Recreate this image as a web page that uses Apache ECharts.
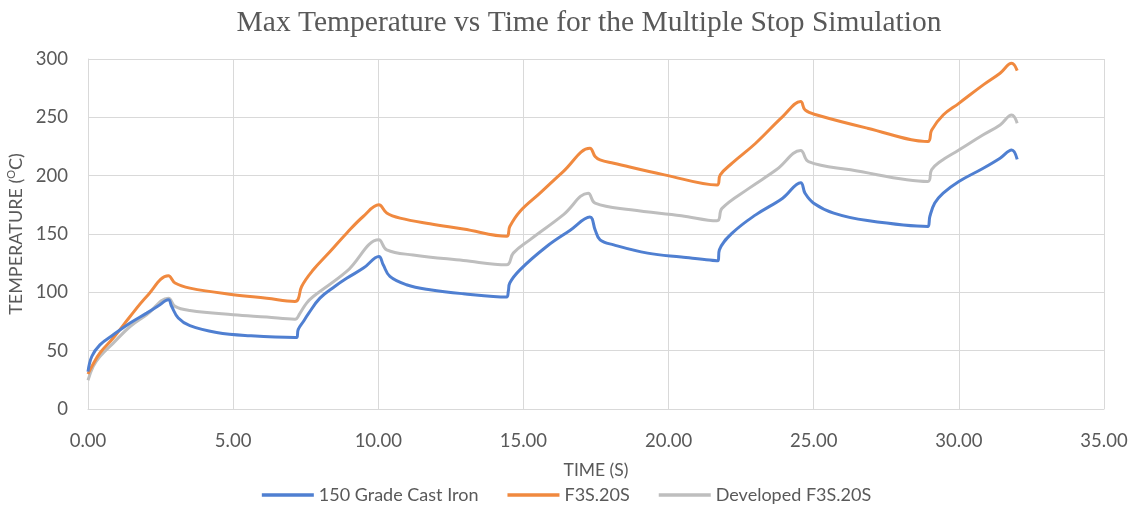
<!DOCTYPE html>
<html>
<head>
<meta charset="utf-8">
<title>Max Temperature vs Time</title>
<script src="https://cdn.jsdelivr.net/npm/echarts@6/dist/echarts.min.js"></script>
<style>
  html, body { margin: 0; padding: 0; background: #ffffff; }
  #chart { width: 1133px; height: 517px; }
</style>
</head>
<body>
<div id="chart"></div>
<script>
// Series names
const seriesNames = ['150 Grade Cast Iron', 'F3S.20S', 'Developed F3S.20S'];

// 150 Grade Cast Iron: time (s) and max temperature (°C)
const castIronTime = [0, 0.13, 0.41, 0.87, 1.45, 2.02, 2.4, 2.77, 2.88, 3.11, 3.51, 4.43, 5.58, 7.13, 7.2,
  7.24, 7.42, 7.6, 7.99, 8.5, 8.91, 9.5, 10.02, 10.17, 10.4, 10.97, 11.78, 12.93, 14.42, 14.48,
  14.53, 14.88, 15.8, 16.6, 17.29, 17.47, 17.64, 18.11, 19.28, 20.44, 21.7, 21.75, 22.19, 23.0, 23.93,
  24.55, 24.7, 25.0, 25.69, 26.85, 28.93, 29.0, 29.17, 29.46, 30.0, 30.84, 31.42, 31.82, 32.01];
const castIronTemp = [32, 45, 55, 63.6, 73.7, 82.2, 88, 93.6, 88, 78, 71.4, 65.6, 62.8, 61.3, 61.5,
  68, 75, 82, 95, 105, 112, 121, 130.7, 123.6, 113.6, 106.5, 102.2, 98.8, 96, 101,
  108, 119.3, 139.3, 153, 164.5, 153.6, 145, 140.7, 133.6, 130.2, 127, 136.4, 150.7, 166.4, 180.7,
  194, 185, 176.4, 167.9, 161.5, 156.4, 165, 176.5, 185, 195, 206.4, 215, 222, 214];

// F3S.20S
const f3sTime = [0, 0.13, 0.41, 0.87, 1.45, 2.02, 2.77, 3.0, 3.51, 5.0, 6.16, 7.13, 7.24, 7.36, 7.76,
  8.34, 8.91, 9.48, 10.02, 10.29, 10.75, 11.78, 12.93, 14.42, 14.53, 14.88, 15.57, 16.37, 17.29, 17.47,
  17.64, 18.11, 19.86, 21.67, 21.78, 22.19, 23.0, 23.93, 24.55, 24.7, 25.11, 26.85, 28.93, 29.06, 29.46,
  30.0, 30.84, 31.42, 31.82, 32.01];
const f3sTemp = [30, 36.5, 48, 60.8, 79.3, 96.4, 114.2, 108, 103.6, 98, 95, 92.2, 94.2, 105, 119.3,
  135, 150.7, 165, 175, 168, 163.6, 158.7, 154.2, 148, 156.4, 169.3, 185, 203.5, 223.5, 216.4,
  213.5, 210.7, 200.7, 192, 200.7, 210.7, 227.8, 250.6, 263.5, 256.4, 252, 240.7, 229.2, 239, 252,
  262, 277.8, 287.8, 296.3, 290];

// Developed F3S.20S
const developedTime = [0, 0.18, 0.41, 0.87, 1.45, 2.02, 2.77, 3.0, 3.51, 5.0, 6.16, 7.13, 7.3, 7.53, 7.76,
  8.91, 10.02, 10.29, 11.2, 12.93, 14.42, 14.65, 15.22, 16.37, 17.23, 17.47, 18.7, 20.44, 21.67, 21.84,
  22.78, 23.71, 24.55, 24.82, 26.27, 28.93, 29.06, 29.35, 30.0, 30.84, 31.42, 31.82, 32.01];
const developedTemp = [24.6, 36.5, 45, 56.5, 70.7, 80.8, 95, 88, 84.5, 80.8, 78.8, 77, 82, 90.8, 96.4,
  117.9, 145, 136.4, 132, 127.3, 123.6, 133.6, 145, 166.4, 185, 176.4, 170.7, 165.6, 161.3, 172,
  189.3, 205, 221.5, 212, 205, 195, 205, 212, 222, 235, 243.5, 252, 245];

const seriesColors = ['#4F7FD1', '#F0893F', '#BEBEBE'];
const textGray = '#595959';
const gridGray = '#D9D9D9';
const uiFont = 'Lato, "Open Sans", sans-serif';

function pairs(xs, ys) { return xs.map((x, i) => [x, ys[i]]); }

const chart = echarts.init(document.getElementById('chart'), null, { renderer: 'canvas' });

const lineSeries = [
  pairs(castIronTime, castIronTemp),
  pairs(f3sTime, f3sTemp),
  pairs(developedTime, developedTemp)
].map((data, i) => ({
  name: seriesNames[i],
  type: 'line',
  data: data,
  showSymbol: false,
  smooth: 0.4,
  lineStyle: { width: 3, color: seriesColors[i] },
  itemStyle: { color: seriesColors[i] },
  z: 3 - i
}));

chart.setOption({
  animation: false,
  backgroundColor: '#ffffff',
  title: {
    text: 'Max Temperature vs Time for the Multiple Stop Simulation',
    left: 584,
    textAlign: 'center',
    top: 3,
    textStyle: {
      fontFamily: '"Liberation Serif", "DejaVu Serif", serif',
      fontSize: 29.5,
      fontWeight: 'normal',
      color: textGray
    }
  },
  legend: {
    data: seriesNames,
    left: 'center',
    top: 481,
    icon: 'rect',
    itemWidth: 52,
    itemHeight: 3.5,
    itemGap: 29,
    textStyle: { fontFamily: uiFont, fontSize: 18, color: textGray }
  },
  grid: { left: 88, right: 29, top: 59, bottom: 108, outerBoundsMode: 'none', containLabel: false },
  xAxis: {
    type: 'value',
    min: 0,
    max: 35,
    interval: 5,
    name: 'TIME (S)',
    nameLocation: 'middle',
    nameGap: 52,
    nameTextStyle: { fontFamily: uiFont, fontSize: 17.5, color: textGray },
    axisLine: { show: true, lineStyle: { color: gridGray } },
    axisTick: { show: false },
    axisLabel: {
      margin: 23,
      fontFamily: uiFont,
      fontSize: 18.5,
      color: textGray,
      formatter: v => v.toFixed(2)
    },
    splitLine: { show: true, lineStyle: { color: gridGray, width: 1 } }
  },
  yAxis: {
    type: 'value',
    min: 0,
    max: 300,
    interval: 50,
    name: 'TEMPERATURE ({sup|O}C)',
    nameLocation: 'middle',
    nameGap: 61,
    nameRotate: 90,
    nameTextStyle: {
      fontFamily: uiFont,
      fontSize: 18,
      color: textGray,
      rich: {
        sup: { fontFamily: uiFont, fontSize: 11, color: textGray, verticalAlign: 'top', lineHeight: 20 }
      }
    },
    axisLine: { show: true, lineStyle: { color: gridGray } },
    axisTick: { show: false },
    axisLabel: { margin: 20, fontFamily: uiFont, fontSize: 18.5, color: textGray },
    splitLine: { show: true, lineStyle: { color: gridGray, width: 1 } }
  },
  series: lineSeries
});
</script>
</body>
</html>
